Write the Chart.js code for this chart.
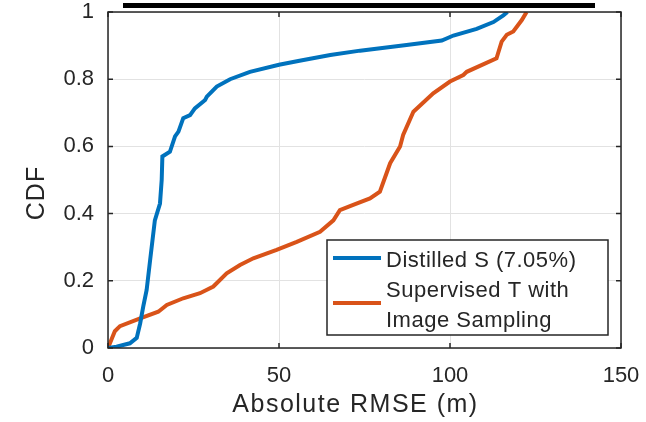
<!DOCTYPE html>
<html>
<head>
<meta charset="utf-8">
<script src="https://cdn.jsdelivr.net/npm/chart.js@4.4.1/dist/chart.umd.min.js"></script>
<style>
  html,body{margin:0;padding:0;background:#fff;}
  canvas{display:block;}
</style>
</head>
<body>
<canvas id="chartCdf" width="646" height="422"></canvas>
<script>
// ================= DATA =================
const distilledX = [0, 2.5, 6.4, 8.4, 9.4, 10.3, 11.3, 12.3, 13.7, 15.2, 15.7, 15.9, 18.1, 19.6, 20.6, 22, 24, 25.4, 28.4, 28.9, 31.8, 35.7, 41.5, 50, 56, 65, 73.7, 87.3, 97.6, 101, 107.8, 112.7, 115.6, 116.8];
const distilledY = [0, 0.004, 0.014, 0.03, 0.073, 0.123, 0.173, 0.26, 0.38, 0.43, 0.5, 0.57, 0.584, 0.63, 0.644, 0.684, 0.693, 0.713, 0.738, 0.748, 0.778, 0.80, 0.822, 0.843, 0.855, 0.872, 0.885, 0.902, 0.915, 0.93, 0.95, 0.97, 0.99, 1.0];

const supervisedX = [0, 2, 3.5, 9.4, 14.7, 17.2, 22, 26.9, 30.8, 34.7, 38.6, 42.5, 49.3, 55.2, 62, 65.9, 67.8, 71.7, 76.6, 79.5, 82.5, 85.4, 86.3, 89.3, 95.1, 100, 103.9, 104.9, 113.6, 115.1, 116.6, 118.5, 121, 122.4];
const supervisedY = [0, 0.05, 0.065, 0.088, 0.108, 0.128, 0.148, 0.163, 0.183, 0.222, 0.247, 0.267, 0.292, 0.316, 0.346, 0.38, 0.41, 0.426, 0.445, 0.465, 0.55, 0.6, 0.634, 0.703, 0.758, 0.793, 0.8125, 0.822, 0.862, 0.912, 0.932, 0.942, 0.976, 1.0];

const legendLines = [["Distilled S (7.05%)"], ["Supervised T with", "Image Sampling"]];
const xTitle = "Absolute RMSE (m)";
const yTitle = "CDF";

const FONT = "'Liberation Sans', Arial, Helvetica, sans-serif";
const INK  = "#262626";

const toPts = (xs, ys) => xs.map((x, i) => ({ x, y: ys[i] }));

// ================= DECOR (box, inward ticks, legend, titles) =================
const decor = {
  id: "decor",
  afterDatasetsDraw(chart) {
    const { ctx, chartArea: a, scales: { x, y } } = chart;
    ctx.save();

    // box
    ctx.strokeStyle = INK;
    ctx.lineWidth = 1.5;
    ctx.strokeRect(a.left, a.top, a.right - a.left, a.bottom - a.top);

    // inward ticks on all four sides
    ctx.beginPath();
    x.ticks.forEach(t => {
      const px = x.getPixelForValue(t.value);
      ctx.moveTo(px, a.bottom); ctx.lineTo(px, a.bottom - 5);
      ctx.moveTo(px, a.top);    ctx.lineTo(px, a.top + 5);
    });
    y.ticks.forEach(t => {
      const py = y.getPixelForValue(t.value);
      ctx.moveTo(a.left, py);  ctx.lineTo(a.left + 5, py);
      ctx.moveTo(a.right, py); ctx.lineTo(a.right - 5, py);
    });
    ctx.stroke();

    // legend (lower right inside the axes)
    const lx = a.right - 294, ly = a.bottom - 108, lw = 281, lh = 95;
    ctx.fillStyle = "#fff";
    ctx.fillRect(lx, ly, lw, lh);
    ctx.lineWidth = 1.5;
    ctx.strokeStyle = INK;
    ctx.strokeRect(lx, ly, lw, lh);

    ctx.font = "22px " + FONT;
    ctx.letterSpacing = "0.5px";
    ctx.fillStyle = INK;
    ctx.textAlign = "left";
    ctx.textBaseline = "alphabetic";
    const rowH = 30;
    let row = 0;
    chart.data.datasets.forEach((ds, i) => {
      const lines = legendLines[i];
      const midRow = row + (lines.length - 1) / 2;
      const sy = ly + 18 + midRow * rowH;
      ctx.strokeStyle = ds.borderColor;
      ctx.lineWidth = 4;
      ctx.beginPath();
      ctx.moveTo(lx + 6, sy); ctx.lineTo(lx + 54, sy);
      ctx.stroke();
      lines.forEach(txt => {
        ctx.fillText(txt, lx + 59, ly + 26.5 + row * rowH);
        row++;
      });
    });

    // axis titles
    ctx.fillStyle = INK;
    ctx.textAlign = "center";
    ctx.font = "25px " + FONT;
    ctx.letterSpacing = "1.5px";
    ctx.fillText(xTitle, (a.left + a.right) / 2 - 9, 412);

    ctx.save();
    ctx.translate(44, 193);
    ctx.rotate(-Math.PI / 2);
    ctx.font = "25px " + FONT;
    ctx.letterSpacing = "1px";
    ctx.fillText(yTitle, 0, 0);
    ctx.restore();

    // black strip along the top edge
    ctx.fillStyle = "#000";
    ctx.fillRect(123, 3, 472, 5);

    ctx.restore();
  }
};

// ================= CHART =================
new Chart(document.getElementById("chartCdf").getContext("2d"), {
  type: "line",
  data: {
    datasets: [
      {
        label: legendLines[0].join(" "),
        data: toPts(distilledX, distilledY),
        borderColor: "#0072BD",
        backgroundColor: "#0072BD",
        borderWidth: 4,
        pointRadius: 0,
        tension: 0,
        fill: false
      },
      {
        label: legendLines[1].join(" "),
        data: toPts(supervisedX, supervisedY),
        borderColor: "#D95319",
        backgroundColor: "#D95319",
        borderWidth: 4,
        pointRadius: 0,
        tension: 0,
        fill: false
      }
    ]
  },
  options: {
    responsive: false,
    devicePixelRatio: 1,
    animation: false,
    layout: { padding: { top: 12, right: 25, left: 0, bottom: 0 } },
    plugins: {
      legend: { display: false },
      tooltip: { enabled: false }
    },
    scales: {
      x: {
        type: "linear",
        min: 0, max: 150,
        ticks: { stepSize: 50, color: INK, padding: 17, font: { family: FONT, size: 22, lineHeight: 1 } },
        grid: { color: "#e2e2e2", lineWidth: 1, drawTicks: false },
        border: { display: false },
        afterFit: s => { s.height = 74; s.paddingLeft = 0; s.paddingRight = 0; }
      },
      y: {
        min: 0, max: 1,
        ticks: {
          stepSize: 0.2, color: INK, padding: 14,
          font: { family: FONT, size: 22, lineHeight: 1 },
          callback: v => String(+v.toFixed(1))
        },
        grid: { color: "#e2e2e2", lineWidth: 1, drawTicks: false },
        border: { display: false },
        afterFit: s => { s.width = 108; s.paddingTop = 0; s.paddingBottom = 0; }
      }
    }
  },
  plugins: [decor]
});
</script>
</body>
</html>
